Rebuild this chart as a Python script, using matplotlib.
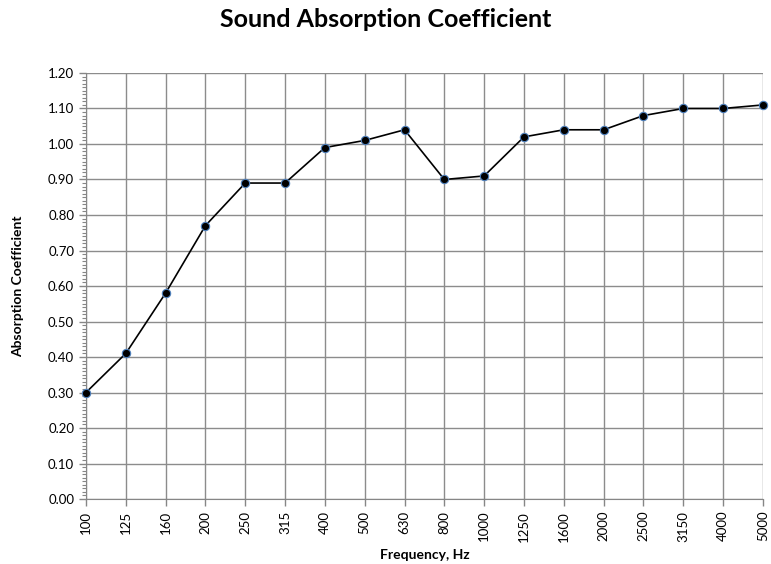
import matplotlib.pyplot as plt
from matplotlib.ticker import MultipleLocator

# --- Data ---
freqs = ["100", "125", "160", "200", "250", "315", "400", "500", "630",
         "800", "1000", "1250", "1600", "2000", "2500", "3150", "4000", "5000"]
alpha = [0.30, 0.41, 0.58, 0.77, 0.89, 0.89, 0.99, 1.01, 1.04,
         0.90, 0.91, 1.02, 1.04, 1.04, 1.08, 1.10, 1.10, 1.11]

plt.rcParams['font.family'] = ['Lato', 'DejaVu Sans']

fig = plt.figure(figsize=(7.71, 5.64), dpi=100)
ax = fig.add_axes([0.1115, 0.1152, 0.878, 0.7554])

x = list(range(len(freqs)))
ax.plot(x, alpha, color='black', linewidth=1.2, marker='o', markersize=6,
        markerfacecolor='black', markeredgecolor='#4F81BD', markeredgewidth=0.8,
        zorder=3, clip_on=False)

# --- Formatting ---
ax.set_xlim(0, len(freqs) - 1)
ax.set_ylim(0, 1.2)
ax.set_xticks(x)
ax.set_xticklabels(freqs, rotation=90, fontsize=9.5)
ax.yaxis.set_major_locator(MultipleLocator(0.1))
ax.yaxis.set_minor_locator(MultipleLocator(0.01))
ax.yaxis.set_major_formatter(plt.FuncFormatter(lambda v, p: f"{v:.2f}"))
ax.tick_params(axis='y', labelsize=9.5, length=5, color='#868686', width=1)
ax.tick_params(axis='y', which='minor', length=3, color='#868686', width=0.8)
ax.tick_params(axis='x', length=5, color='#868686', width=1)

ax.grid(True, color='#8c8c8c', linewidth=1)
ax.set_axisbelow(True)
for s in ['top', 'right']:
    ax.spines[s].set_visible(False)
for s in ['left', 'bottom']:
    ax.spines[s].set_color('#868686')

fig.text(0.5, 0.965, "Sound Absorption Coefficient", fontsize=18, fontweight='bold',
         ha='center', va='center')
ax.set_xlabel("Frequency, Hz", fontsize=10, fontweight='bold', labelpad=5)
ax.set_ylabel("Absorption Coefficient", fontsize=10, fontweight='bold', labelpad=17)

fig.savefig("out.png", dpi=100)
